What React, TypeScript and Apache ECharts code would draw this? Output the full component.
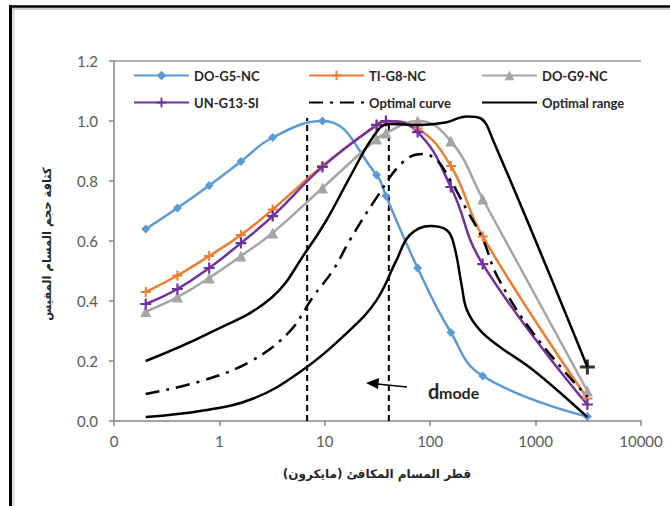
import React, { useEffect, useRef } from 'react';
import * as echarts from 'echarts';

// Pore diameter (micron) of the measured samples
const sizes = [0.2, 0.4, 0.8, 1.6, 3.2, 9.5, 31, 38, 76, 157, 315, 3100];
const doG5 = [0.64, 0.71, 0.785, 0.865, 0.945, 1.0, 0.82, 0.75, 0.51, 0.295, 0.15, 0.015];
const tiG8 = [0.43, 0.485, 0.55, 0.62, 0.705, 0.85, 0.985, 1.0, 0.975, 0.85, 0.615, 0.075];
const doG9 = [0.365, 0.413, 0.477, 0.55, 0.627, 0.777, 0.94, 0.96, 1.0, 0.933, 0.74, 0.1];
const unG13 = [0.39, 0.44, 0.51, 0.593, 0.683, 0.847, 0.987, 1.0, 0.963, 0.78, 0.523, 0.055];

const optimalX = [0.2, 0.7, 2.0, 4.6, 7.7, 12, 17.3, 30, 55, 85, 115, 155, 223, 318, 436, 947, 3100];
const optimalY = [0.09, 0.135, 0.2, 0.297, 0.413, 0.503, 0.603, 0.737, 0.863, 0.89, 0.87, 0.803, 0.703, 0.603, 0.48, 0.293, 0.08];

const upperX = [0.2, 0.8, 3.1, 6.8, 10.4, 17.3, 28.7, 40, 80, 140, 223, 296, 394, 3100];
const upperY = [0.2, 0.293, 0.41, 0.57, 0.67, 0.813, 0.947, 0.99, 0.987, 0.995, 1.015, 1.01, 0.937, 0.18];

const lowerX = [0.2, 0.7, 2.1, 5.8, 17.3, 31, 48, 64, 100, 145, 170, 200, 223, 296, 459, 947, 3100];
const lowerY = [0.013, 0.035, 0.075, 0.163, 0.303, 0.403, 0.537, 0.62, 0.65, 0.635, 0.58, 0.447, 0.37, 0.303, 0.247, 0.17, 0.013];

const dmodeX = [6.8, 40.5];
const dmodeTop = [1.01, 1.0];

const yTicks = { min: 0, max: 1.2, interval: 0.2 };
const xRange = { min: 0.1, max: 10000 };

const PLUS = 'path://M4,0H6V4H10V6H6V10H4V6H0V4H4Z';

const pair = (xs: number[], ys: number[]) => xs.map((x, i) => [x, ys[i]]);

export default function App() {
  const ref = useRef<HTMLDivElement>(null);
  useEffect(() => {
    const chart = echarts.init(ref.current!, null, { renderer: 'svg' });
    const legendText = { fontFamily: 'Lato', fontWeight: 'bold' as const, fontSize: 13, color: '#262626' };
    const legendBase = {
      orient: 'vertical' as const,
      top: 64,
      itemWidth: 55,
      itemHeight: 12,
      itemGap: 14,
      textStyle: legendText,
      selectedMode: false,
    };
    const noMark = { itemStyle: { opacity: 0, color: 'transparent' } };
    const colored = (name: string, ys: number[], color: string, symbol: string, symbolSize: number) => ({
      name,
      type: 'line',
      data: pair(sizes, ys),
      smooth: 0.45,
      symbol,
      symbolSize,
      lineStyle: { color, width: 2.5 },
      itemStyle: { color },
      z: 3,
    });
    const option: any = {
      animation: false,
      backgroundColor: '#ffffff',
      grid: { left: 114, right: 29, top: 61, bottom: 85 },
      legend: [
        { ...legendBase, left: 128, data: ['DO-G5-NC', 'UN-G13-SI'] },
        { ...legendBase, left: 303, data: ['TI-G8-NC', { name: 'Optimal curve', ...noMark }] },
        { ...legendBase, left: 476, data: ['DO-G9-NC', { name: 'Optimal range', ...noMark }] },
      ],
      xAxis: {
        type: 'log',
        logBase: 10,
        min: xRange.min,
        max: xRange.max,
        axisLine: { lineStyle: { color: '#868686', width: 1.5 } },
        axisTick: { show: true, length: 5, lineStyle: { color: '#868686', width: 1.5 } },
        minorTick: { show: false },
        splitLine: { show: false },
        axisLabel: {
          fontFamily: 'Lato',
          fontSize: 15,
          color: '#595959',
          margin: 12,
          formatter: (v: number) => (v < 0.5 ? '0' : String(Math.round(v))),
        },
      },
      yAxis: {
        type: 'value',
        min: yTicks.min,
        max: yTicks.max,
        interval: yTicks.interval,
        axisLine: { show: true, lineStyle: { color: '#868686', width: 1.5 } },
        axisTick: { show: true, length: 5, lineStyle: { color: '#868686', width: 1.5 } },
        splitLine: { show: false },
        axisLabel: {
          fontFamily: 'Lato',
          fontSize: 15,
          color: '#595959',
          margin: 16,
          formatter: (v: number) => v.toFixed(1),
        },
      },
      series: [
        colored('DO-G5-NC', doG5, '#5b9bd5', 'diamond', 9),
        colored('TI-G8-NC', tiG8, '#ed7d31', PLUS, 10),
        colored('DO-G9-NC', doG9, '#a5a5a5', 'triangle', 11),
        colored('UN-G13-SI', unG13, '#7030a0', PLUS, 11),
        {
          name: 'Optimal curve',
          type: 'line',
          data: pair(optimalX, optimalY),
          smooth: 0.4,
          symbol: 'none',
          lineStyle: { color: '#000000', width: 2.5, type: [14, 7, 3, 7] },
          itemStyle: { color: '#000000' },
          z: 4,
        },
        {
          name: 'Optimal range',
          type: 'line',
          data: pair(upperX, upperY),
          smooth: 0.4,
          symbol: 'none',
          lineStyle: { color: '#000000', width: 2.5 },
          itemStyle: { color: '#000000' },
          z: 4,
        },
        {
          name: 'Optimal range',
          type: 'line',
          data: pair(lowerX, lowerY),
          smooth: 0.4,
          symbol: 'none',
          lineStyle: { color: '#000000', width: 2.5 },
          itemStyle: { color: '#000000' },
          z: 4,
        },
        {
          name: 'range end',
          type: 'scatter',
          data: [[upperX[upperX.length - 1], upperY[upperY.length - 1]]],
          symbol: PLUS,
          symbolSize: 15,
          itemStyle: { color: '#000000' },
          z: 5,
        },
        ...dmodeX.map((x, i) => ({
          name: 'dmode' + i,
          type: 'line',
          data: [[x, 0], [x, dmodeTop[i]]],
          symbol: 'none',
          lineStyle: { color: '#000000', width: 2, type: [6, 4] },
          z: 2,
        })),
      ],
      graphic: [
        { type: 'line', shape: { x1: 10.5, y1: 5, x2: 10.5, y2: 506 }, style: { stroke: '#000', lineWidth: 3 } },
        { type: 'line', shape: { x1: 9, y1: 6.5, x2: 670, y2: 6.5 }, style: { stroke: '#000', lineWidth: 2.5 } },
        { type: 'line', shape: { x1: 13.5, y1: 8, x2: 13.5, y2: 506 }, style: { stroke: '#d0d0d0', lineWidth: 2 } },
        { type: 'line', shape: { x1: 12, y1: 9, x2: 670, y2: 9 }, style: { stroke: '#d0d0d0', lineWidth: 2 } },
        { type: 'line', shape: { x1: 114, y1: 61, x2: 641, y2: 61 }, style: { stroke: '#9a9a9a', lineWidth: 1.5 } },
        { type: 'line', shape: { x1: 377, y1: 384, x2: 407, y2: 387 }, style: { stroke: '#000', lineWidth: 1.5 } },
        { type: 'polygon', shape: { points: [[366, 383], [379, 378], [378, 389]] }, style: { fill: '#000' } },
        {
          type: 'text', x: 428, y: 401,
          style: { text: 'd', fontFamily: 'Lato', fontWeight: 'bold', fontSize: 20, fill: '#262626', align: 'left', verticalAlign: 'bottom' },
        },
        {
          type: 'text', x: 439, y: 400,
          style: { text: 'mode', fontFamily: 'Lato', fontWeight: 'bold', fontSize: 16, fill: '#262626', align: 'left', verticalAlign: 'bottom' },
        },
        {
          type: 'text', x: 377, y: 474,
          style: { text: 'قطر المسام المكافئ (مايكرون)', fontFamily: 'DejaVu Sans', fontWeight: 'bold', fontSize: 12, fill: '#262626', align: 'center', verticalAlign: 'middle' },
        },
        {
          type: 'text', x: 47, y: 244, rotation: Math.PI / 2,
          style: { text: 'كثافة حجم المسام المقيس', fontFamily: 'DejaVu Sans', fontWeight: 'bold', fontSize: 11.5, fill: '#262626', align: 'center', verticalAlign: 'middle' },
        },
      ],
    };
    chart.setOption(option);
    return () => chart.dispose();
  }, []);
  return (
    <div
      ref={ref}
      style={{ position: 'absolute', left: 0, top: 0, width: 670, height: 506, background: '#ffffff' }}
    />
  );
}
